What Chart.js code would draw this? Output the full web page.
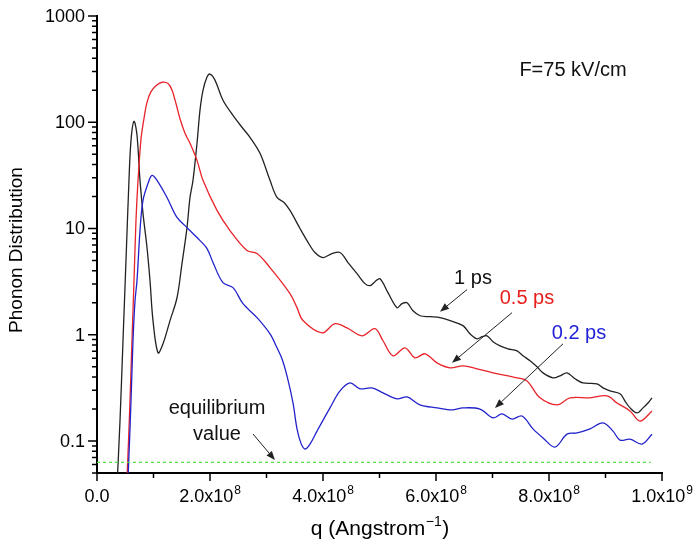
<!DOCTYPE html>
<html><head><meta charset="utf-8">
<script src="https://cdn.jsdelivr.net/npm/chart.js@4.4.0/dist/chart.umd.min.js"></script>
<style>html,body{margin:0;padding:0;background:#fff;overflow:hidden}</style>
</head><body>
<canvas id="c" width="696" height="547"></canvas>
<script>
// ---- data (q in Angstrom^-1, phonon distribution) ----
const q1ps = [0.354e8,0.407e8,0.460e8,0.513e8,0.566e8,0.602e8,0.655e8,0.708e8,0.761e8,0.814e8,0.885e8,0.938e8,0.991e8,1.080e8,1.168e8,1.292e8,1.416e8,1.504e8,1.593e8,1.646e8,1.699e8,1.770e8,1.823e8,1.876e8,1.947e8,2.000e8,2.088e8,2.230e8,2.407e8,2.566e8,2.708e8,2.885e8,3.062e8,3.186e8,3.310e8,3.416e8,3.593e8,3.717e8,3.858e8,4.000e8,4.159e8,4.301e8,4.442e8,4.602e8,4.743e8,4.832e8,4.920e8,5.009e8,5.150e8,5.310e8,5.398e8,5.487e8,5.593e8,5.717e8,5.894e8,6.071e8,6.248e8,6.478e8,6.602e8,6.726e8,6.814e8,6.903e8,7.009e8,7.133e8,7.274e8,7.434e8,7.540e8,7.664e8,7.788e8,7.894e8,8.071e8,8.195e8,8.319e8,8.460e8,8.602e8,8.850e8,8.956e8,9.080e8,9.257e8,9.345e8,9.434e8,9.558e8,9.664e8,9.752e8,9.823e8];
const n1ps = [0.0376,0.154,0.878,4.99,28.4,67.6,102,75.4,28.4,13.9,6.62,3.23,1.36,0.676,0.822,1.36,2.23,4.67,10.2,19.6,28.4,63.4,130,200,266,284,249,161,116,89.7,72.2,51.0,28.4,19.6,17.6,14.8,10,7.70,5.94,5.33,5.81,5.94,4.78,3.76,3.03,2.90,3.16,3.37,2.49,1.80,1.96,2.00,1.68,1.51,1.48,1.45,1.36,1.22,1.02,0.917,0.958,0.978,0.859,0.787,0.738,0.706,0.634,0.569,0.499,0.438,0.393,0.410,0.438,0.385,0.352,0.345,0.316,0.296,0.278,0.238,0.205,0.184,0.205,0.228,0.255];

const q05ps = [0.513e8,0.531e8,0.584e8,0.619e8,0.655e8,0.690e8,0.726e8,0.779e8,0.832e8,0.885e8,0.956e8,1.044e8,1.150e8,1.257e8,1.327e8,1.398e8,1.469e8,1.558e8,1.646e8,1.770e8,1.876e8,2.124e8,2.354e8,2.655e8,2.832e8,3.062e8,3.416e8,3.540e8,3.646e8,3.982e8,4.212e8,4.425e8,4.690e8,4.920e8,5.062e8,5.239e8,5.451e8,5.628e8,5.805e8,6.018e8,6.248e8,6.478e8,6.726e8,7.009e8,7.434e8,7.611e8,7.841e8,8.142e8,8.372e8,8.726e8,9.027e8,9.204e8,9.434e8,9.611e8,9.823e8];
const n05ps = [0.0337,0.0448,0.238,0.878,3.23,11.9,28.4,69.4,109,154,194,221,238,232,201,150,108,78.7,63.4,43.8,28.4,14.8,9.57,6.20,5.81,4.29,2.44,1.80,1.36,1.04,1.27,1.16,0.978,1.14,0.878,0.634,0.754,0.607,0.662,0.544,0.489,0.510,0.478,0.438,0.393,0.368,0.255,0.219,0.255,0.255,0.266,0.228,0.192,0.154,0.192];

const q02ps = [0.531e8,0.549e8,0.602e8,0.637e8,0.673e8,0.708e8,0.761e8,0.814e8,0.903e8,0.973e8,1.062e8,1.239e8,1.416e8,1.593e8,1.770e8,1.947e8,2.053e8,2.230e8,2.407e8,2.584e8,2.832e8,3.062e8,3.186e8,3.274e8,3.363e8,3.469e8,3.540e8,3.611e8,3.681e8,3.770e8,3.894e8,4.124e8,4.301e8,4.478e8,4.655e8,4.867e8,5.062e8,5.310e8,5.487e8,5.717e8,6.018e8,6.283e8,6.478e8,6.779e8,7.009e8,7.168e8,7.345e8,7.522e8,7.717e8,7.894e8,8.106e8,8.319e8,8.496e8,8.726e8,8.956e8,9.133e8,9.257e8,9.434e8,9.646e8,9.823e8];
const n02ps = [0.0337,0.0448,0.238,0.878,2.09,3.23,9.57,18.4,26.6,31.6,28.4,19.6,12.7,10.2,8.22,6.48,4.78,3.09,2.78,1.96,1.45,1.02,0.754,0.594,0.410,0.228,0.130,0.095,0.0841,0.0937,0.124,0.205,0.296,0.352,0.310,0.316,0.284,0.249,0.260,0.219,0.205,0.196,0.205,0.200,0.165,0.180,0.161,0.172,0.130,0.107,0.0878,0.116,0.119,0.130,0.148,0.124,0.102,0.104,0.0937,0.116];

const qEquil = [0, 9.8e8];
const nEquil = [0.063, 0.063];

// ---- ticks ----
const yTickValues = [0.1, 1, 10, 100, 1000];
const yTickLabels = ['0.1', '1', '10', '100', '1000'];
const xTickValues = [0, 2e8, 4e8, 6e8, 8e8, 1e9];
const xTickBase = ['0.0', '2.0x10', '4.0x10', '6.0x10', '8.0x10', '1.0x10'];
const xTickExp = ['', '8', '8', '8', '8', '9'];
const xMinorTicks = [1e8, 3e8, 5e8, 7e8, 9e8];

// ---- annotations ----
const annText = ['F=75 kV/cm', '1 ps', '0.5 ps', '0.2 ps', 'equilibrium', 'value'];
const annQ = [0.8425e9, 0.6655e9, 0.761e9, 0.853e9, 0.2124e9, 0.2124e9];
const annN = [310, 3.38, 2.19, 1.02, 0.2004, 0.1164];
const annColor = ['#111', '#111', '#e8201c', '#1f1fd8', '#111', '#111'];
const arrFromQ = [0.6549e9, 0.7345e9, 0.8248e9, 0.2761e9];
const arrFromN = [2.66, 1.613, 0.822, 0.1164];
const arrToQ = [0.6071e9, 0.6283e9, 0.7044e9, 0.315e9];
const arrToN = [1.648, 0.544, 0.205, 0.0662];

const FONT = '"Liberation Sans", Arial, Helvetica, sans-serif';
const toXY = (qs, ns) => qs.map((q, i) => ({x: q, y: ns[i]}));

function arrow(ctx, x1, y1, x2, y2) {
  const a = Math.atan2(y2 - y1, x2 - x1), L = 9, W = 3.5;
  const bx = x2 - L * Math.cos(a), by = y2 - L * Math.sin(a);
  ctx.beginPath(); ctx.moveTo(x1, y1); ctx.lineTo(bx, by); ctx.stroke();
  ctx.beginPath();
  ctx.moveTo(x2, y2);
  ctx.lineTo(bx + W * Math.sin(a), by - W * Math.cos(a));
  ctx.lineTo(bx - W * Math.sin(a), by + W * Math.cos(a));
  ctx.closePath(); ctx.fill();
}

const decor = {
  id: 'decor',
  afterDraw(chart) {
    const ctx = chart.ctx, xs = chart.scales.x, ys = chart.scales.y, ca = chart.chartArea;
    ctx.save();
    ctx.strokeStyle = '#000'; ctx.fillStyle = '#000'; ctx.lineWidth = 1.5;
    // ticks
    const minor = [];
    [0.01, 0.1, 1, 10, 100].forEach(d => { for (let k = 2; k <= 9; k++) minor.push(k * d); });
    ctx.beginPath();
    yTickValues.forEach(v => { const y = ys.getPixelForValue(v); ctx.moveTo(ca.left - 9, y); ctx.lineTo(ca.left, y); });
    minor.filter(v => v >= 0.05 && v <= 1000).forEach(v => { const y = ys.getPixelForValue(v); ctx.moveTo(ca.left - 5, y); ctx.lineTo(ca.left, y); });
    xTickValues.forEach(v => { const x = xs.getPixelForValue(v); ctx.moveTo(x, ca.bottom); ctx.lineTo(x, ca.bottom + 8); });
    xMinorTicks.forEach(v => { const x = xs.getPixelForValue(v); ctx.moveTo(x, ca.bottom); ctx.lineTo(x, ca.bottom + 5); });
    ctx.stroke();
    // y labels
    ctx.font = '18px ' + FONT; ctx.textAlign = 'right'; ctx.textBaseline = 'middle';
    yTickValues.forEach((v, i) => ctx.fillText(yTickLabels[i], ca.left - 12, ys.getPixelForValue(v) + 1));
    // x labels
    ctx.textBaseline = 'alphabetic';
    xTickValues.forEach((v, i) => {
      const cx = xs.getPixelForValue(v);
      ctx.font = '18px ' + FONT; const wb = ctx.measureText(xTickBase[i]).width;
      ctx.font = '12px ' + FONT; const we = xTickExp[i] ? ctx.measureText(xTickExp[i]).width + 1 : 0;
      const x0 = cx - (wb + we) / 2;
      ctx.textAlign = 'left';
      ctx.font = '18px ' + FONT; ctx.fillText(xTickBase[i], x0, ca.bottom + 29);
      if (xTickExp[i]) { ctx.font = '12px ' + FONT; ctx.fillText(xTickExp[i], x0 + wb + 1, ca.bottom + 21); }
    });
    // x title
    {
      const p1 = 'q (Angstrom', sup = '\u22121', p2 = ')';
      ctx.font = '21px ' + FONT; const w1 = ctx.measureText(p1).width, w2 = ctx.measureText(p2).width;
      ctx.font = '14px ' + FONT; const ws = ctx.measureText(sup).width;
      const cx = (ca.left + ca.right) / 2, x0 = cx - (w1 + ws + w2) / 2, by = ca.bottom + 62;
      ctx.textAlign = 'left';
      ctx.font = '21px ' + FONT; ctx.fillText(p1, x0, by); ctx.fillText(p2, x0 + w1 + ws + 1, by);
      ctx.font = '14px ' + FONT; ctx.fillText(sup, x0 + w1 + 0.5, by - 9);
    }
    // y title
    ctx.save();
    ctx.translate(17, 250); ctx.rotate(-Math.PI / 2);
    ctx.font = '19px ' + FONT; ctx.textAlign = 'center'; ctx.textBaseline = 'middle';
    ctx.fillText('Phonon Distribution', 0, 0);
    ctx.restore();
    // annotations
    ctx.textAlign = 'center'; ctx.textBaseline = 'middle'; ctx.font = '20px ' + FONT;
    annText.forEach((t, i) => { ctx.fillStyle = annColor[i]; ctx.fillText(t, xs.getPixelForValue(annQ[i]), ys.getPixelForValue(annN[i])); });
    ctx.strokeStyle = '#222'; ctx.fillStyle = '#222'; ctx.lineWidth = 1;
    arrFromQ.forEach((q, i) => arrow(ctx, xs.getPixelForValue(q), ys.getPixelForValue(arrFromN[i]), xs.getPixelForValue(arrToQ[i]), ys.getPixelForValue(arrToN[i])));
    ctx.restore();
  }
};

new Chart(document.getElementById('c'), {
  type: 'line',
  data: {
    datasets: [
      {label: 'equilibrium value', data: toXY(qEquil, nEquil), borderColor: '#55dd44', borderWidth: 1.2, borderDash: [3, 3], pointRadius: 0},
      {label: '0.2 ps', data: toXY(q02ps, n02ps), borderColor: '#2222cc', borderWidth: 1.3, pointRadius: 0, tension: 0.35},
      {label: '0.5 ps', data: toXY(q05ps, n05ps), borderColor: '#e8232a', borderWidth: 1.3, pointRadius: 0, tension: 0.35},
      {label: '1 ps', data: toXY(q1ps, n1ps), borderColor: '#222222', borderWidth: 1.3, pointRadius: 0, tension: 0.35}
    ]
  },
  options: {
    responsive: false, animation: false, devicePixelRatio: 1,
    layout: {padding: {left: 97, right: 34, top: 16, bottom: 74}},
    plugins: {legend: {display: false}, tooltip: {enabled: false}},
    scales: {
      x: {type: 'linear', min: 0, max: 1e9, ticks: {display: false}, grid: {display: false, drawTicks: false}, border: {display: true, color: '#000', width: 2}},
      y: {type: 'logarithmic', min: 0.05, max: 1000, ticks: {display: false}, grid: {display: false, drawTicks: false}, border: {display: true, color: '#000', width: 2}}
    }
  },
  plugins: [decor]
});
</script>
</body></html>
